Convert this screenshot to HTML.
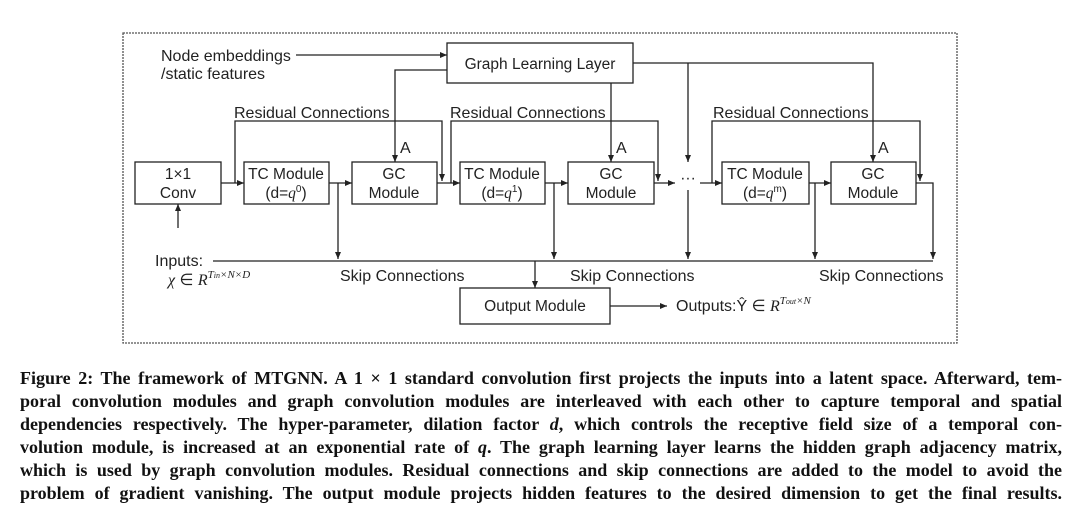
<!DOCTYPE html>
<html><head><meta charset="utf-8"><style>
body{margin:0;background:#fff;width:1080px;height:518px;overflow:hidden;position:relative}
svg{position:absolute;left:0;top:0}
.cap{position:absolute;left:20px;width:1042px;font-family:"Liberation Serif",serif;font-weight:bold;font-size:18px;color:#111;text-align:justify;text-align-last:justify;white-space:nowrap;line-height:20px}
</style></head><body>
<svg width="1080" height="518" viewBox="0 0 1080 518" font-family="Liberation Sans, sans-serif" font-size="15.5" fill="none" stroke="#222" stroke-width="1.3">
<defs><marker id="a" markerWidth="8" markerHeight="8" refX="7" refY="4" orient="auto" markerUnits="userSpaceOnUse"><path d="M0,1 L7,4 L0,7z" fill="#222" stroke="none"/></marker></defs>
<rect x="123" y="33" width="834" height="310" stroke="#555" stroke-dasharray="2,1"/>
<rect x="447" y="43" width="186" height="40"/>
<rect x="135" y="162" width="86" height="42"/>
<rect x="244" y="162" width="85" height="42"/>
<rect x="352" y="162" width="85" height="42"/>
<rect x="460" y="162" width="85" height="42"/>
<rect x="568" y="162" width="86" height="42"/>
<rect x="722" y="162" width="87" height="42"/>
<rect x="831" y="162" width="85" height="42"/>
<rect x="460" y="288" width="150" height="36"/>
<line x1="221" y1="183" x2="244" y2="183" marker-end="url(#a)"/>
<line x1="329" y1="183" x2="352" y2="183" marker-end="url(#a)"/>
<line x1="437" y1="183" x2="460" y2="183" marker-end="url(#a)"/>
<line x1="545" y1="183" x2="568" y2="183" marker-end="url(#a)"/>
<line x1="654" y1="183" x2="675" y2="183" marker-end="url(#a)"/>
<line x1="700" y1="183" x2="722" y2="183" marker-end="url(#a)"/>
<line x1="809" y1="183" x2="831" y2="183" marker-end="url(#a)"/>
<polyline points="916,183 933,183 933,259" marker-end="url(#a)"/>
<polyline points="235,183 235,121 442,121 442,181" marker-end="url(#a)"/>
<polyline points="451,183 451,121 658,121 658,181" marker-end="url(#a)"/>
<polyline points="712,183 712,121 920,121 920,181" marker-end="url(#a)"/>
<line x1="296" y1="55" x2="447" y2="55" marker-end="url(#a)"/>
<polyline points="447,70 395,70 395,162" marker-end="url(#a)"/>
<line x1="611" y1="83" x2="611" y2="162" marker-end="url(#a)"/>
<polyline points="633,63 873,63 873,162" marker-end="url(#a)"/>
<line x1="688" y1="63" x2="688" y2="162" marker-end="url(#a)"/>
<line x1="213" y1="261" x2="933" y2="261"/>
<line x1="338" y1="183" x2="338" y2="259" marker-end="url(#a)"/>
<line x1="554" y1="183" x2="554" y2="259" marker-end="url(#a)"/>
<line x1="688" y1="190" x2="688" y2="259" marker-end="url(#a)"/>
<line x1="815" y1="183" x2="815" y2="259" marker-end="url(#a)"/>
<line x1="535" y1="261" x2="535" y2="288" marker-end="url(#a)"/>
<line x1="178" y1="228" x2="178" y2="204" marker-end="url(#a)"/>
<line x1="610" y1="306" x2="667" y2="306" marker-end="url(#a)"/>
<g fill="#222" stroke="none" text-anchor="middle">
<text x="540" y="69">Graph Learning Layer</text>
<text x="178" y="179">1×1</text><text x="178" y="198">Conv</text>
<text x="286" y="179">TC Module</text><text x="286" y="198">(d=<tspan font-family="Liberation Serif" font-style="italic">q</tspan><tspan font-size="10" dy="-6">0</tspan><tspan dy="6">)</tspan></text>
<text x="394" y="179">GC</text><text x="394" y="198">Module</text>
<text x="502" y="179">TC Module</text><text x="502" y="198">(d=<tspan font-family="Liberation Serif" font-style="italic">q</tspan><tspan font-size="10" dy="-6">1</tspan><tspan dy="6">)</tspan></text>
<text x="611" y="179">GC</text><text x="611" y="198">Module</text>
<text x="765" y="179">TC Module</text><text x="765" y="198">(d=<tspan font-family="Liberation Serif" font-style="italic">q</tspan><tspan font-size="10" dy="-6">m</tspan><tspan dy="6">)</tspan></text>
<text x="873" y="179">GC</text><text x="873" y="198">Module</text>
<text x="535" y="311">Output Module</text>
<text x="688" y="183">···</text>
</g>
<g fill="#222" stroke="none" font-size="16">
<text x="161" y="61">Node embeddings</text>
<text x="161" y="79">/static features</text>
<text x="234" y="118">Residual Connections</text>
<text x="450" y="118">Residual Connections</text>
<text x="713" y="118">Residual Connections</text>
<text x="400" y="153">A</text><text x="616" y="153">A</text><text x="878" y="153">A</text>
<text x="340" y="281">Skip Connections</text>
<text x="570" y="281">Skip Connections</text>
<text x="819" y="281">Skip Connections</text>
<text x="155" y="266">Inputs:</text>
<text x="676" y="311">Outputs:Ŷ ∈ <tspan font-family="Liberation Serif" font-style="italic">R</tspan><tspan font-family="Liberation Serif" font-style="italic" font-size="11" dy="-7">T<tspan font-size="8">out</tspan>×N</tspan></text>
<text x="168" y="285"><tspan font-family="Liberation Serif" font-style="italic">χ</tspan> ∈ <tspan font-family="Liberation Serif" font-style="italic">R</tspan><tspan font-family="Liberation Serif" font-style="italic" font-size="11" dy="-7">T<tspan font-size="8">in</tspan>×N×D</tspan></text>
</g>
</svg>
<div class="cap" style="top:368px">Figure 2: The framework of MTGNN. A 1 × 1 standard convolution first projects the inputs into a latent space. Afterward, tem-</div>
<div class="cap" style="top:391px">poral convolution modules and graph convolution modules are interleaved with each other to capture temporal and spatial</div>
<div class="cap" style="top:414px">dependencies respectively. The hyper-parameter, dilation factor <i>d</i>, which controls the receptive field size of a temporal con-</div>
<div class="cap" style="top:437px">volution module, is increased at an exponential rate of <i>q</i>. The graph learning layer learns the hidden graph adjacency matrix,</div>
<div class="cap" style="top:460px">which is used by graph convolution modules. Residual connections and skip connections are added to the model to avoid the</div>
<div class="cap" style="top:483px">problem of gradient vanishing. The output module projects hidden features to the desired dimension to get the final results.</div>
</body></html>
